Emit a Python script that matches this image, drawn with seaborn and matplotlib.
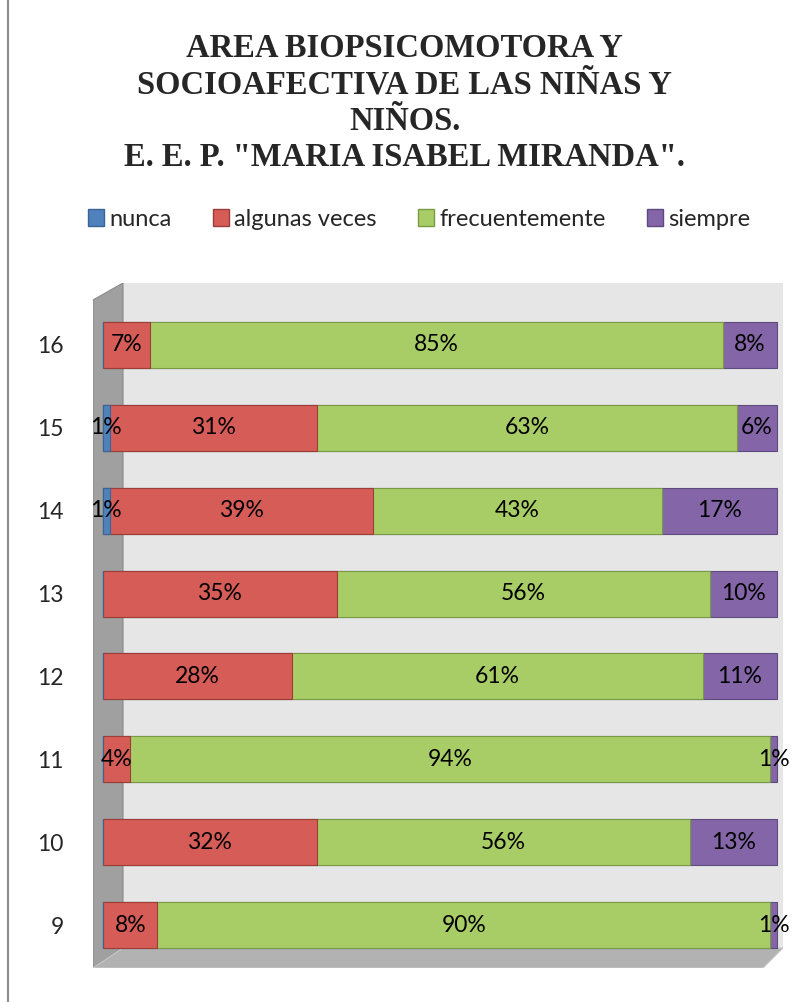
import numpy as np
import pandas as pd
import matplotlib.pyplot as plt
import seaborn as sns
from matplotlib.patches import Polygon, Rectangle, Patch
from matplotlib.lines import Line2D

sns.set_style("white")
plt.rcParams["font.family"] = ["Lato", "DejaVu Sans"]

# item numbers, top to bottom as in the chart
items = ["16", "15", "14", "13", "12", "11", "10", "9"]
nunca = [0, 1, 1, 0, 0, 0, 0, 0]
algunas_veces = [7, 31, 39, 35, 28, 4, 32, 8]
frecuentemente = [85, 63, 43, 56, 61, 94, 56, 90]
siempre = [8, 6, 17, 10, 11, 1, 13, 1]

series_names = ["nunca", "algunas veces", "frecuentemente", "siempre"]
colors = ["#4f81bd", "#d65c57", "#a9cd66", "#8466a8"]
edge_colors = ["#3a6496", "#9c3d39", "#789a45", "#5e4a7e"]

title = ('AREA BIOPSICOMOTORA Y\nSOCIOAFECTIVA DE LAS NIÑAS Y\nNIÑOS.\n'
         'E. E. P. "MARIA ISABEL MIRANDA".')

df = pd.DataFrame({"item": items, "nunca": nunca, "algunas veces": algunas_veces,
                   "frecuentemente": frecuentemente, "siempre": siempre})

# 100% stacked: normalise each row, then accumulate
shares = df[series_names].div(df[series_names].sum(axis=1), axis=0)
cum = shares.cumsum(axis=1)
cum["item"] = df["item"]

fig = plt.figure(figsize=(8.09, 10.02), dpi=100)

# plot area (pixels 93..783 wide, 283..968 tall)
ax = fig.add_axes([93 / 809, 1 - 968 / 1002, 690 / 809, 685 / 1002])
ax.patch.set_visible(False)

# pseudo-3D walls
wx = 30 / 690
fy = 20 / 685
ax.add_patch(Rectangle((wx, fy), 1 - wx, 1 - fy, transform=ax.transAxes,
                       facecolor="#e6e6e6", edgecolor="none", zorder=0))
ax.add_patch(Polygon([(0, 0), (wx, fy), (wx, 1), (0, 1 - 17 / 685)],
                     transform=ax.transAxes, facecolor="#a0a0a0",
                     edgecolor="#8a8a8a", lw=0.8, zorder=0))
ax.add_patch(Polygon([(0, 0), (wx, fy), (1, fy), (1 - 20 / 690, 0)],
                     transform=ax.transAxes, facecolor="#b2b2b2",
                     edgecolor="#c8c8c8", lw=0.8, zorder=0))

for name, col, ec in reversed(list(zip(series_names, colors, edge_colors))):
    sns.barplot(data=cum, x=name, y="item", order=items, color=col,
                saturation=1, width=0.555, errorbar=None, orient="h",
                edgecolor=ec, linewidth=0.8, ax=ax, zorder=2)

# data labels at segment centres
for i in range(len(items)):
    for name in series_names:
        val = df.loc[i, name]
        if val <= 0:
            continue
        centre = cum.loc[i, name] - shares.loc[i, name] / 2
        ax.text(centre, i, f"{val}%", ha="center", va="center",
                fontsize=16.5, color="black", zorder=5)

ax.set_xlim((93 - 103) / 674, (783 - 103) / 674)
ax.set_ylim(7 + 43 / 82.86, -62 / 82.86)
ax.set_xlabel("")
ax.set_ylabel("")
ax.set_xticks([])
ax.tick_params(axis="y", length=0, pad=21, labelsize=16.5)
for s in ax.spines.values():
    s.set_visible(False)

fig.text(0.5, 1 - 103 / 1002, title, ha="center", va="center", fontsize=23.5,
         fontweight="bold", family="Liberation Serif", linespacing=1.23)

handles = [Patch(facecolor=c, edgecolor=e, label=n)
           for n, c, e in zip(series_names, colors, edge_colors)]
fig.legend(handles=handles, loc="center", bbox_to_anchor=(419 / 809, 1 - 219 / 1002),
           ncol=4, frameon=False, fontsize=17, handlelength=0.7,
           handleheight=0.7, handletextpad=0.2, columnspacing=1.75)

fig.add_artist(Line2D([8 / 809, 8 / 809], [0, 1], transform=fig.transFigure,
                      color="#8c8c8c", lw=1.5))

fig.savefig("out.png", dpi=100)
